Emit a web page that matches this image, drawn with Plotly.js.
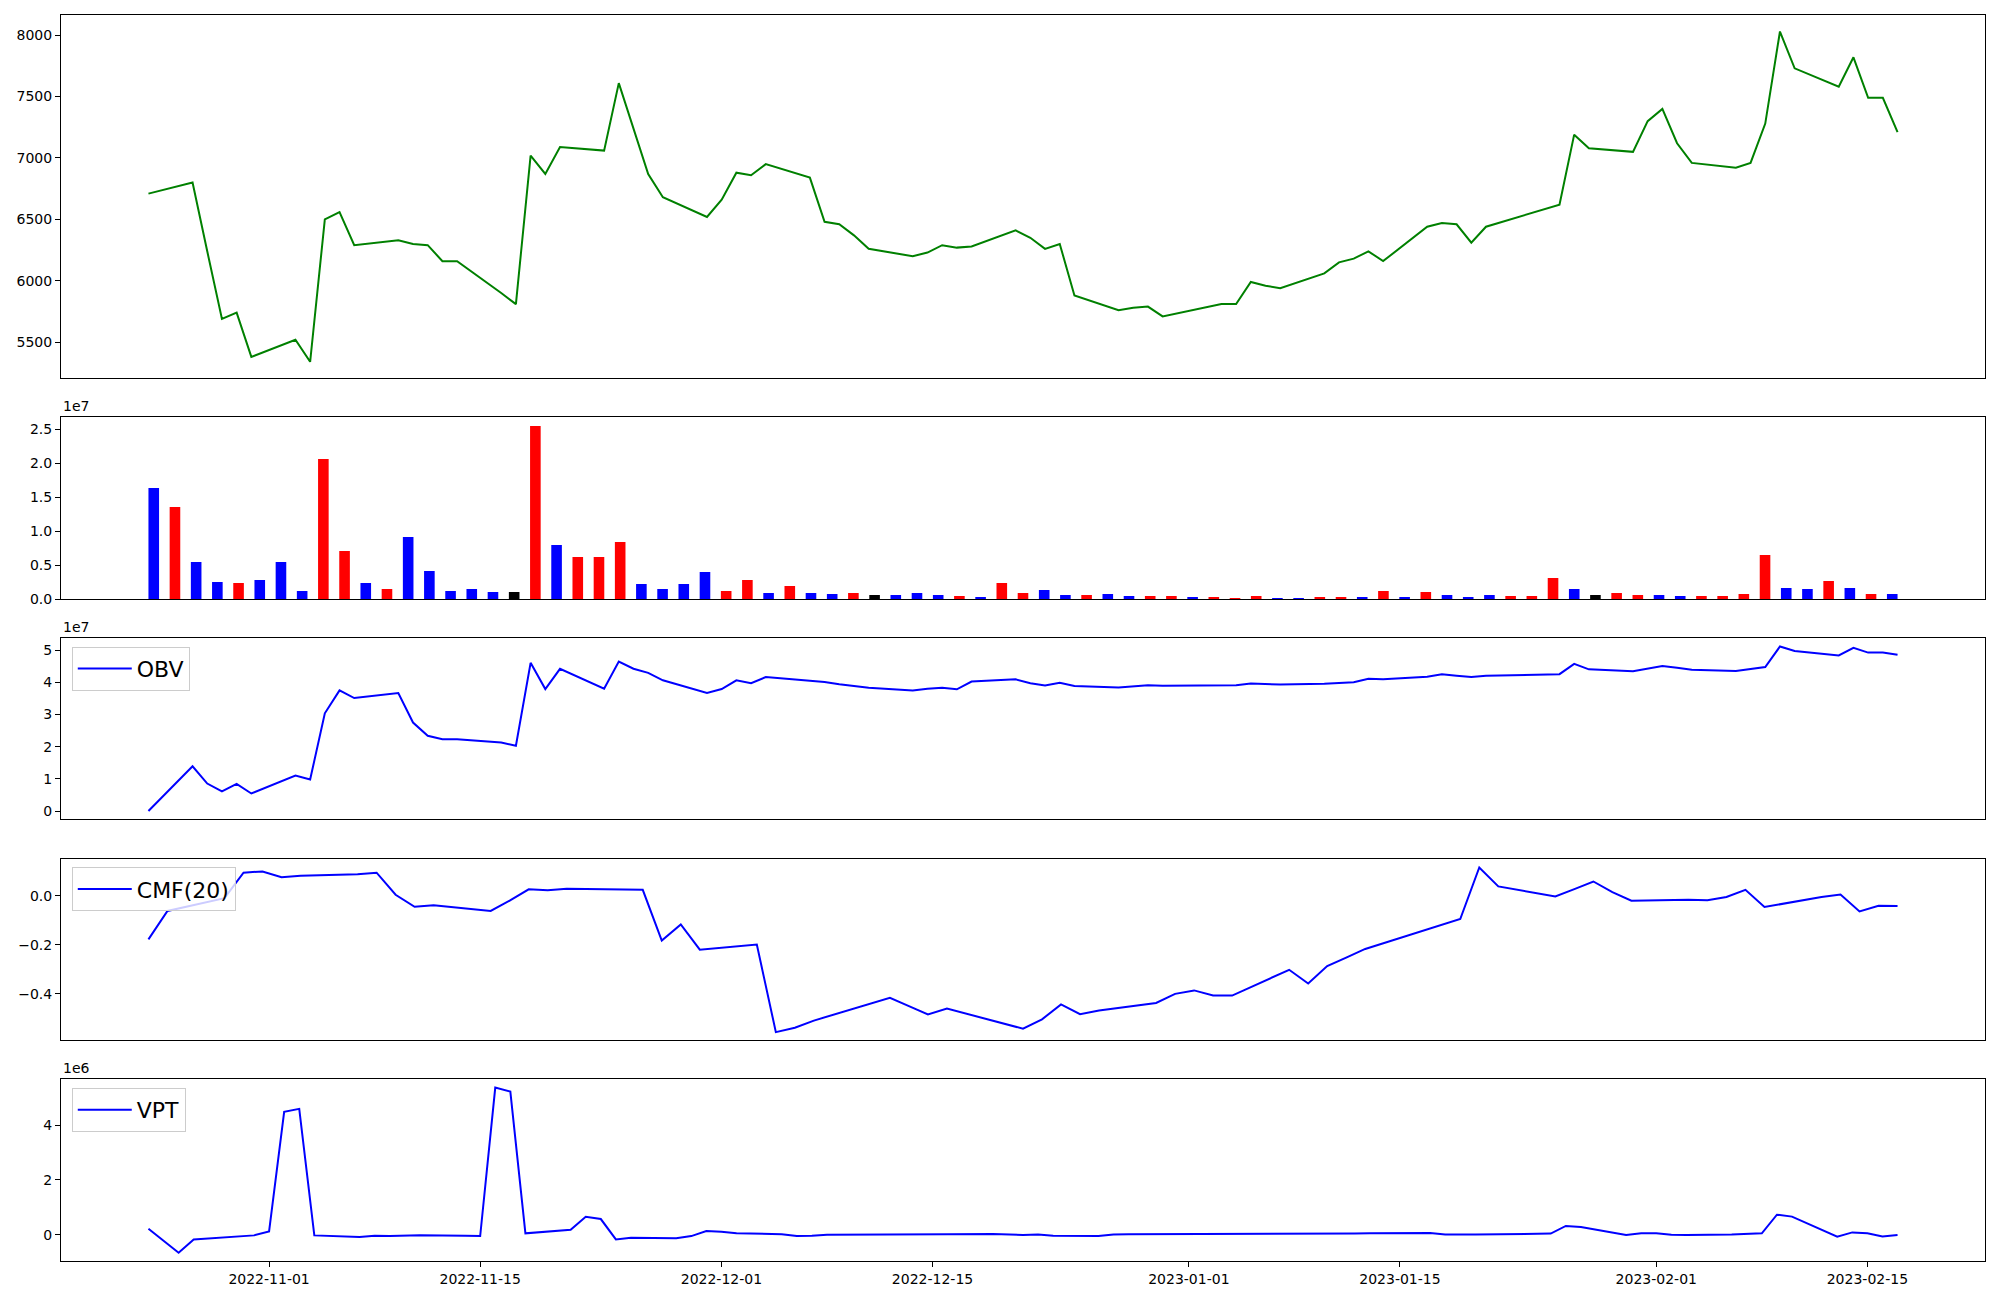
<!DOCTYPE html>
<html>
<head>
<meta charset="utf-8">
<script src="https://cdn.plot.ly/plotly-3.0.1.min.js"></script>
<style>html,body{margin:0;padding:0;background:#fff}#chart{width:2000px;height:1300px}</style>
</head>
<body>
<div id="chart"></div>
<script>
// ---- data ----
const dates = [
"2022-10-21","2022-10-24","2022-10-25","2022-10-26","2022-10-27","2022-10-28",
"2022-10-31","2022-11-01","2022-11-02","2022-11-03","2022-11-04",
"2022-11-07","2022-11-08","2022-11-09","2022-11-10","2022-11-11",
"2022-11-14","2022-11-15","2022-11-16","2022-11-17","2022-11-18",
"2022-11-21","2022-11-22","2022-11-23","2022-11-24","2022-11-25",
"2022-11-28","2022-11-29","2022-11-30","2022-12-01","2022-12-02",
"2022-12-05","2022-12-06","2022-12-07","2022-12-08","2022-12-09",
"2022-12-12","2022-12-13","2022-12-14","2022-12-15","2022-12-16",
"2022-12-19","2022-12-20","2022-12-21","2022-12-22","2022-12-23",
"2022-12-26","2022-12-27","2022-12-28","2022-12-29",
"2023-01-02","2023-01-03","2023-01-04","2023-01-05","2023-01-06",
"2023-01-09","2023-01-10","2023-01-11","2023-01-12","2023-01-13",
"2023-01-16","2023-01-17","2023-01-18","2023-01-19","2023-01-20",
"2023-01-25","2023-01-26","2023-01-27",
"2023-01-30","2023-01-31","2023-02-01","2023-02-02","2023-02-03",
"2023-02-06","2023-02-07","2023-02-08","2023-02-09","2023-02-10",
"2023-02-13","2023-02-14","2023-02-15","2023-02-16","2023-02-17"];

const closePrice = [
6710,6800,6240,5690,5740,5380,
5520,5340,6500,6560,6290,
6330,6300,6290,6160,6160,
5900,5810,7020,6870,7090,
7060,7610,7240,6870,6680,
6520,6660,6880,6860,6950,
6840,6480,6460,6370,6260,
6200,6230,6290,6270,6280,
6410,6350,6260,6300,5880,
5760,5780,5790,5710,
5810,5810,5990,5960,5940,
6060,6150,6180,6240,6160,
6440,6470,6460,6310,6440,
6620,7190,7080,
7050,7300,7400,7120,6960,
6920,6960,7280,8030,7730,
7580,7820,7490,7490,7210];

const volume = [
16370000,13570000,5490000,2540000,2400000,2840000,
5490000,1220000,20630000,7100000,2400000,
1510000,9160000,4160000,1220000,1510000,
1070000,1070000,25500000,7980000,6220000,
6220000,8430000,2250000,1510000,2250000,
4000000,1220000,2840000,930000,1960000,
930000,780000,930000,630000,630000,
930000,630000,490000,340000,2400000,
930000,1370000,630000,630000,780000,
490000,490000,490000,340000,
340000,200000,490000,200000,200000,
340000,340000,340000,1220000,340000,
1070000,630000,340000,630000,490000,
490000,3130000,1510000,
630000,930000,630000,630000,490000,
490000,490000,780000,6520000,1660000,
1510000,2690000,1660000,780000,780000];

// day direction of each volume bar: u = up (red), d = down (blue), f = flat (black)
const direction = [
"d","u","d","d","u","d",
"d","d","u","u","d",
"u","d","d","d","d",
"d","f","u","d","u",
"u","u","d","d","d",
"d","u","u","d","u",
"d","d","u","f","d",
"d","d","u","d","u",
"u","d","d","u","d",
"d","u","u","d",
"u","u","u","d","d",
"u","u","d","u","d",
"u","d","d","d","u",
"u","u","d",
"f","u","u","d","d",
"u","u","u","u","d",
"d","u","d","u","d"];

const obv = [
0,13900000,8550000,6080000,8450000,5460000,
11000000,9780000,30360000,37460000,35090000,
36640000,27480000,23360000,22330000,22330000,
21300000,20280000,46030000,37870000,44150000,
38000000,46400000,44200000,42900000,40600000,
36700000,37900000,40600000,39700000,41600000,
40600000,40100000,39400000,38800000,38300000,
37400000,38000000,38300000,37800000,40200000,
40900000,39700000,39000000,39800000,38800000,
38400000,38800000,39100000,38900000,
39000000,39100000,39600000,39400000,39300000,
39500000,39800000,40000000,41100000,40900000,
41700000,42500000,42000000,41600000,42000000,
42500000,45700000,44000000,
43400000,44100000,45000000,44500000,43900000,
43500000,44000000,44700000,51100000,49700000,
48300000,50700000,49200000,49200000,48500000];

const cmf20 = [
null,null,null,null,null,null,
null,null,null,null,null,
null,null,null,null,null,
null,null,null,-0.178,-0.062,
-0.010,0.094,0.099,0.075,0.081,
0.088,0.094,0.004,-0.045,-0.039,
-0.062,-0.020,0.026,0.022,0.028,
0.027,0.024,-0.183,-0.117,-0.220,
-0.199,-0.556,-0.538,-0.509,-0.486,
-0.416,-0.450,-0.484,-0.460,
-0.542,-0.504,-0.443,-0.483,-0.468,
-0.437,-0.400,-0.386,-0.407,-0.407,
-0.302,-0.358,-0.287,-0.252,-0.217,
-0.095,0.115,0.038,
-0.003,0.027,0.058,0.015,-0.020,
-0.016,-0.018,-0.005,0.024,-0.046,
-0.005,0.005,-0.064,-0.041,-0.042];

const vpt = [
null,219000,-220000,-657000,-170000,-140000,
-24000,122000,4480000,4590000,-24000,
-80000,-40000,-50000,-30000,-20000,
-40000,-50000,5365000,5220000,50000,
180000,657000,572000,-170000,-110000,
-130000,-50000,134000,110000,50000,
20000,-50000,-40000,0,0,
0,10000,10000,10000,20000,
30000,20000,-10000,10000,-40000,
-50000,10000,20000,20000,
20000,20000,20000,20000,20000,
20000,20000,30000,40000,50000,
60000,60000,10000,0,10000,
40000,320000,280000,
-10000,50000,50000,0,-10000,
10000,20000,50000,730000,660000,
-70000,85000,50000,-60000,-10000];

// tick labels
const priceTicks = [5500,6000,6500,7000,7500,8000];
const volumeTicks = [0,0.5,1.0,1.5,2.0,2.5];      // x 1e7
const obvTicks = [0,1,2,3,4,5];                   // x 1e7
const cmfTicks = [-0.4,-0.2,0.0];
const vptTicks = [0,2,4];                         // x 1e6
const dateTicks = ["2022-11-01","2022-11-15","2022-12-01","2022-12-15",
                   "2023-01-01","2023-01-15","2023-02-01","2023-02-15"];

// ---- helpers ----
const fmtMs = ms => new Date(ms).toISOString().slice(0,19).replace('T',' ');
function dateSpan(xs, ys){
  const t = xs.filter((d,i)=>ys[i]!==null).map(d=>Date.parse(d+'T00:00:00Z'));
  const lo=Math.min(...t), hi=Math.max(...t), p=(hi-lo)*0.05;
  return [fmtMs(lo-p), fmtMs(hi+p)];
}
function valSpan(ys){
  const v=ys.filter(y=>y!==null);
  const lo=Math.min(...v), hi=Math.max(...v), p=(hi-lo)*0.05;
  return [lo-p, hi+p];
}
const minus = s => String(s).replace('-','\u2212');
const colorOf = {u:'#ff0000', d:'#0000ff', f:'#000000'};
const idx = volume.map((_,i)=>i);
const n = volume.length, bw = 0.5;

const FONT = 'DejaVu Sans, Liberation Sans, sans-serif';
const frame = {showline:true, mirror:true, linecolor:'#000', linewidth:1, showgrid:false, zeroline:false};
const yax = (domain, extra) => Object.assign({domain, ticks:'outside', ticklen:5, tickwidth:1, tickcolor:'#000',
  tickfont:{size:14, color:'#000'}}, frame, extra);
const xhidden = (anchor, extra) => Object.assign({anchor, domain:[0,1], showticklabels:false, ticks:''}, frame, extra);

const traces = [
  {x:dates, y:closePrice, type:'scatter', mode:'lines', line:{color:'#008000', width:2},
   xaxis:'x', yaxis:'y', showlegend:false, name:'Close'},
  {x:idx, y:volume, type:'bar', width:bw, marker:{color:direction.map(d=>colorOf[d]), line:{width:0}},
   xaxis:'x2', yaxis:'y2', showlegend:false, name:'Volume'},
  {x:dates, y:obv, type:'scatter', mode:'lines', line:{color:'#0000ff', width:2},
   xaxis:'x3', yaxis:'y3', name:'OBV', legend:'legend'},
  {x:dates, y:cmf20, type:'scatter', mode:'lines', line:{color:'#0000ff', width:2},
   xaxis:'x4', yaxis:'y4', name:'CMF(20)', legend:'legend2'},
  {x:dates, y:vpt, type:'scatter', mode:'lines', line:{color:'#0000ff', width:2},
   xaxis:'x5', yaxis:'y5', name:'VPT', legend:'legend3'}
];

const legendStyle = (y) => ({x:0.0056, y, xanchor:'left', yanchor:'top',
  font:{size:22, family:FONT, color:'#000'}, bgcolor:'rgba(255,255,255,0.8)',
  bordercolor:'#cccccc', borderwidth:1, itemwidth:54});

const volMax = Math.max(...volume);
const layout = {
  width:2000, height:1300,
  margin:{l:61, r:15, t:15, b:39},
  paper_bgcolor:'#fff', plot_bgcolor:'#fff',
  font:{family:FONT, size:14, color:'#000'},
  showlegend:true,
  hovermode:false,
  xaxis: xhidden('y', {type:'date', range:dateSpan(dates, closePrice)}),
  xaxis2: xhidden('y2', {type:'linear', range:[-bw/2-0.05*(n-1+bw), n-1+bw/2+0.05*(n-1+bw)]}),
  xaxis3: xhidden('y3', {type:'date', range:dateSpan(dates, obv)}),
  xaxis4: xhidden('y4', {type:'date', range:dateSpan(dates, cmf20)}),
  xaxis5: Object.assign({anchor:'y5', domain:[0,1], type:'date', range:dateSpan(dates, vpt),
    tickvals:dateTicks, ticktext:dateTicks, ticks:'outside', ticklen:5, tickwidth:1, tickcolor:'#000',
    tickfont:{size:14, color:'#000'}}, frame),
  yaxis: yax([0.7084,1], {anchor:'x', range:valSpan(closePrice), tickvals:priceTicks, ticktext:priceTicks.map(String)}),
  yaxis2: yax([0.5311,0.6771], {anchor:'x2', range:[0, volMax*1.05],
    tickvals:volumeTicks.map(v=>v*1e7), ticktext:volumeTicks.map(v=>v.toFixed(1))}),
  yaxis3: yax([0.3545,0.4998], {anchor:'x3', range:valSpan(obv),
    tickvals:obvTicks.map(v=>v*1e7), ticktext:obvTicks.map(String)}),
  yaxis4: yax([0.1771,0.3224], {anchor:'x4', range:valSpan(cmf20),
    tickvals:cmfTicks, ticktext:cmfTicks.map(v=>minus(v.toFixed(1)))}),
  yaxis5: yax([0,0.1458], {anchor:'x5', range:valSpan(vpt),
    tickvals:vptTicks.map(v=>v*1e6), ticktext:vptTicks.map(String)}),
  legend: legendStyle(0.4930),
  legend2: legendStyle(0.3160),
  legend3: legendStyle(0.1388),
  annotations:[
    {text:'1e7', xref:'paper', yref:'paper', x:0, y:0.6771, xanchor:'left', yanchor:'bottom', yshift:1, showarrow:false, font:{size:14}},
    {text:'1e7', xref:'paper', yref:'paper', x:0, y:0.4998, xanchor:'left', yanchor:'bottom', yshift:1, showarrow:false, font:{size:14}},
    {text:'1e6', xref:'paper', yref:'paper', x:0, y:0.1458, xanchor:'left', yanchor:'bottom', yshift:1, showarrow:false, font:{size:14}}
  ]
};

Plotly.newPlot('chart', traces, layout, {displayModeBar:false, staticPlot:true});
</script>
</body>
</html>
